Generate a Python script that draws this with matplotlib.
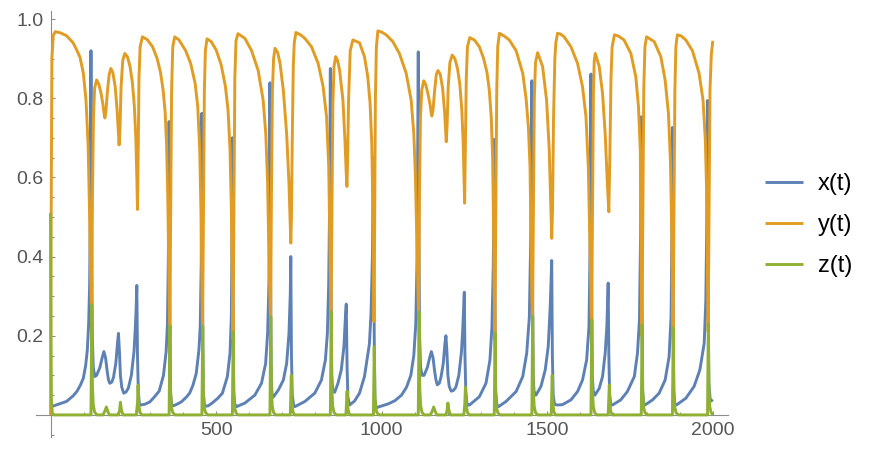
import matplotlib
matplotlib.use("Agg")
import matplotlib.pyplot as plt

# (t, value) pairs
x_points = [
    (0, 0.02), (20, 0.026), (48, 0.034), (68, 0.048), (80, 0.06), (90, 0.075), (99, 0.093),
    (106, 0.125), (111, 0.164), (115, 0.23), (118, 0.33), (120, 0.5), (122, 0.92), (124, 0.45),
    (126, 0.2), (129, 0.12), (133.5, 0.097),
    (139, 0.1), (149, 0.12), (156, 0.145), (161, 0.16), (166, 0.145), (171, 0.11), (175, 0.088),
    (179, 0.08), (185, 0.083), (190, 0.095), (197, 0.13), (202, 0.18), (205, 0.206), (208, 0.16),
    (211, 0.1), (215, 0.07), (221, 0.055), (228, 0.058), (235, 0.068), (244, 0.1), (252, 0.16),
    (256, 0.22), (258.5, 0.27), (260.5, 0.327), (262.5, 0.15), (265, 0.06), (268, 0.03), (271, 0.025),
    (285, 0.027), (300, 0.033), (313, 0.045), (328, 0.06), (341, 0.1), (349, 0.16), (353, 0.23),
    (355.5, 0.38), (358, 0.741), (360, 0.3), (362, 0.06), (365, 0.028), (370, 0.023), (377, 0.025),
    (395, 0.033), (410, 0.045), (420, 0.055), (430, 0.075), (440, 0.105), (448, 0.164), (452, 0.223),
    (455, 0.38), (457, 0.762), (459, 0.3), (461, 0.06), (464, 0.028), (469, 0.022), (476, 0.023),
    (488, 0.03), (505, 0.042), (519, 0.055), (534, 0.097), (542, 0.156), (546, 0.25), (547.5, 0.4),
    (549, 0.70), (551, 0.3), (553, 0.06), (556, 0.028), (562, 0.021),
    (587, 0.03), (617, 0.05), (637, 0.08), (649.5, 0.13), (655.5, 0.206), (659.5, 0.333), (661.5, 0.5),
    (662.6, 0.839), (664.5, 0.35), (666.5, 0.09), (669, 0.05), (672.6, 0.045),
    (688, 0.063), (703, 0.088), (713, 0.13), (720, 0.206), (724, 0.307), (725.5, 0.40), (727.5, 0.15),
    (730, 0.05), (734, 0.025), (738, 0.021),
    (768, 0.034), (798, 0.055), (818, 0.088), (830, 0.139), (836, 0.206), (840, 0.333), (843, 0.55),
    (845, 0.875), (847, 0.35), (849, 0.1), (852, 0.065), (858, 0.057),
    (868, 0.08), (878, 0.114), (886, 0.173), (890.5, 0.248), (893, 0.28), (895.5, 0.12), (898, 0.045),
    (903, 0.025),
    (918, 0.035), (933, 0.055), (948, 0.097), (963, 0.18), (968, 0.26), (972, 0.4), (975, 0.65),
    (977.5, 0.2), (979.5, 0.04), (983, 0.018), (990, 0.02),
    (1020, 0.028), (1040, 0.036), (1060, 0.05), (1075, 0.07), (1088, 0.1), (1097, 0.15), (1103, 0.23),
    (1107, 0.4), (1110.5, 0.917), (1112.5, 0.45), (1114.5, 0.2), (1117.5, 0.12), (1122, 0.1),
    (1128, 0.1), (1138, 0.12), (1145, 0.145), (1150, 0.16), (1155, 0.145), (1160, 0.11), (1164, 0.088),
    (1168, 0.076), (1174, 0.08), (1179, 0.095), (1186, 0.13), (1191, 0.18), (1194, 0.2), (1197, 0.16),
    (1200, 0.1), (1204, 0.072), (1210, 0.06), (1217, 0.062), (1224, 0.07), (1233, 0.1), (1241, 0.16),
    (1245, 0.22), (1247.5, 0.27), (1249.5, 0.31), (1251.5, 0.15), (1254, 0.06), (1257, 0.03),
    (1260, 0.025),
    (1265, 0.025), (1295, 0.046), (1315, 0.08), (1327, 0.139), (1333, 0.223), (1337, 0.375),
    (1340, 0.696), (1342, 0.3), (1344, 0.06), (1348, 0.025), (1353, 0.021),
    (1375.5, 0.034), (1406, 0.059), (1426, 0.097), (1438, 0.156), (1446, 0.248), (1450.5, 0.46),
    (1453.5, 0.844), (1455.5, 0.35), (1457.5, 0.1), (1460, 0.06), (1466, 0.05),
    (1481, 0.072), (1494, 0.114), (1503, 0.173), (1509, 0.274), (1512, 0.35), (1513.5, 0.39),
    (1515.5, 0.15), (1518, 0.05), (1522, 0.027), (1530, 0.025),
    (1546, 0.026), (1571.5, 0.038), (1591.5, 0.059), (1606.5, 0.088), (1619, 0.139), (1626, 0.223),
    (1630, 0.46), (1632, 0.861), (1634, 0.35), (1636, 0.1), (1639, 0.06), (1644, 0.05),
    (1657, 0.067), (1667, 0.097), (1675, 0.156), (1680, 0.223), (1684, 0.333), (1686, 0.15),
    (1688.5, 0.05), (1692, 0.027), (1697, 0.025),
    (1722, 0.038), (1742, 0.059), (1763, 0.097), (1772.5, 0.156), (1778.5, 0.24), (1782, 0.46),
    (1784, 0.753), (1786, 0.3), (1788, 0.06), (1791, 0.03), (1795, 0.025),
    (1818, 0.038), (1838, 0.055), (1856, 0.088), (1868, 0.147), (1874, 0.248), (1876.5, 0.46),
    (1878, 0.726), (1880, 0.3), (1882, 0.06), (1885, 0.03), (1890, 0.025),
    (1918.5, 0.042), (1943.5, 0.072), (1961, 0.114), (1974, 0.181), (1979, 0.29), (1982, 0.5),
    (1984, 0.794), (1986, 0.3), (1988, 0.08), (1992, 0.04), (2000, 0.034),
]

y_points = [
    (0, 0.0), (1.5, 0.45), (4, 0.9), (8, 0.958), (14, 0.968), (30, 0.965), (48, 0.958), (68, 0.94),
    (80, 0.92), (89, 0.903), (99, 0.863), (107, 0.795), (113.5, 0.68), (117.5, 0.52), (120.5, 0.37),
    (122.5, 0.3), (124, 0.25),
    (126.5, 0.55), (129.5, 0.75), (133, 0.825), (139, 0.846), (146, 0.835), (153, 0.81), (158, 0.785),
    (161.5, 0.762), (164, 0.75), (167, 0.765), (172, 0.82), (177, 0.86), (182, 0.875), (188, 0.865),
    (195, 0.83), (201, 0.77), (205, 0.71), (207, 0.682), (209.5, 0.72), (213, 0.83), (218, 0.895),
    (224, 0.913), (232, 0.905), (240, 0.88), (247, 0.84), (253, 0.78), (257.5, 0.7), (260.5, 0.6),
    (262.5, 0.519), (264.5, 0.65), (267, 0.85), (270.5, 0.93), (277.5, 0.955),
    (292, 0.948), (308, 0.93), (322, 0.9), (332, 0.865), (340, 0.82), (346, 0.765), (350.5, 0.68),
    (354, 0.55), (356.5, 0.4), (358.5, 0.28), (360, 0.2), (362.5, 0.5), (365.5, 0.82), (369, 0.93),
    (375, 0.955),
    (388, 0.947), (408, 0.92), (423, 0.888), (436.5, 0.838), (444.5, 0.779), (450.5, 0.67),
    (454.5, 0.5), (457, 0.33), (459, 0.2), (461.5, 0.5), (464.5, 0.82), (467.5, 0.92), (472.5, 0.95),
    (485, 0.943), (500, 0.922), (515, 0.885), (528, 0.83), (536, 0.77), (542, 0.67), (546, 0.52),
    (548.8, 0.33), (551, 0.19), (553.5, 0.5), (556.5, 0.85), (560, 0.945), (566, 0.963),
    (587, 0.951), (607, 0.92), (627, 0.87), (642, 0.795), (650, 0.71), (655.5, 0.585), (659.5, 0.4),
    (662.5, 0.3), (664.5, 0.23), (667, 0.55), (670, 0.82), (673.5, 0.9), (678, 0.926),
    (686, 0.915), (693, 0.888), (703, 0.82), (713, 0.71), (720, 0.585), (723.5, 0.49), (725.5, 0.434),
    (727.5, 0.5), (730, 0.7), (733, 0.88), (736, 0.94), (741, 0.966),
    (755, 0.96), (768, 0.951), (788, 0.93), (808, 0.888), (823, 0.83), (833.5, 0.753), (840, 0.63),
    (843, 0.47), (845.5, 0.32), (847, 0.24), (849.5, 0.5), (852.5, 0.78), (856, 0.88), (861, 0.905),
    (867, 0.895), (873, 0.87), (883, 0.795), (889, 0.694), (893, 0.61), (895, 0.577), (897, 0.64),
    (900, 0.795), (905, 0.92), (913, 0.947),
    (933, 0.94), (948, 0.905), (958, 0.854), (965, 0.787), (970, 0.686), (973, 0.543), (975, 0.38),
    (976.5, 0.236), (978.5, 0.45), (981, 0.8), (984, 0.93), (988.5, 0.97),
    (1000, 0.967), (1013.5, 0.96), (1033.5, 0.943), (1053.5, 0.913), (1074, 0.863), (1089, 0.795),
    (1097, 0.711), (1102, 0.6), (1106, 0.45), (1109, 0.33), (1111.5, 0.24), (1114, 0.55), (1117, 0.75),
    (1121, 0.82), (1127, 0.844),
    (1133, 0.835), (1140, 0.81), (1146, 0.785), (1149, 0.765), (1151.5, 0.755), (1155, 0.77),
    (1160, 0.82), (1165, 0.86), (1170, 0.87), (1177, 0.86), (1184, 0.825), (1190, 0.765), (1193, 0.72),
    (1195, 0.69), (1197.5, 0.73), (1201, 0.83), (1206, 0.89), (1213, 0.909), (1221, 0.9), (1229, 0.875),
    (1236, 0.835), (1242, 0.77), (1246, 0.69), (1248.5, 0.6), (1250.5, 0.535), (1252.5, 0.66),
    (1255.5, 0.85), (1259, 0.93), (1266, 0.953),
    (1280, 0.947), (1295, 0.93), (1308, 0.9), (1318, 0.865), (1325, 0.82), (1331, 0.75), (1335, 0.65),
    (1337.5, 0.5), (1339.5, 0.33), (1342, 0.19), (1344.5, 0.5), (1347.5, 0.82), (1350.5, 0.93),
    (1355.5, 0.964),
    (1370, 0.957), (1385.5, 0.947), (1406, 0.92), (1426, 0.863), (1436, 0.8), (1443, 0.728),
    (1448, 0.627), (1451.5, 0.42), (1453.5, 0.3), (1455.5, 0.23), (1458, 0.5), (1461, 0.8),
    (1464.5, 0.89), (1471, 0.915),
    (1486, 0.88), (1498, 0.795), (1506, 0.67), (1511, 0.52), (1513.5, 0.446), (1516, 0.52),
    (1519, 0.75), (1523, 0.9), (1526, 0.94), (1531, 0.964),
    (1540, 0.962), (1551, 0.955), (1571.5, 0.93), (1591.5, 0.888), (1606.5, 0.829), (1617, 0.753),
    (1624, 0.627), (1629, 0.417), (1631.5, 0.3), (1634, 0.22), (1636.5, 0.5), (1639.5, 0.82),
    (1642, 0.895), (1645, 0.913),
    (1657, 0.88), (1667, 0.812), (1675, 0.71), (1682, 0.577), (1686, 0.513), (1689, 0.65),
    (1692.5, 0.85), (1696, 0.93), (1703, 0.96),
    (1715, 0.957), (1732, 0.947), (1752.5, 0.913), (1767.5, 0.854), (1775.5, 0.779), (1781, 0.67),
    (1783, 0.45), (1784.5, 0.3), (1786, 0.2), (1788.5, 0.5), (1791.5, 0.82), (1795, 0.93), (1800, 0.955),
    (1823, 0.943), (1843, 0.905), (1856, 0.846), (1866, 0.762), (1872, 0.644), (1876, 0.46),
    (1878, 0.3), (1880, 0.2), (1882.5, 0.5), (1885.5, 0.82), (1888.5, 0.93), (1893, 0.96),
    (1905, 0.957), (1918.5, 0.947), (1938.5, 0.92), (1958.5, 0.863), (1970.5, 0.795), (1977.5, 0.694),
    (1982, 0.543), (1984, 0.35), (1986, 0.21), (1988.5, 0.5), (1991.5, 0.82), (1995.5, 0.91),
    (2000, 0.945),
]

z_points = [
    (0, 0.51), (1, 0.2), (2.5, 0.04), (5, 0.006), (10, 0.0),
    (122, 0), (124.5, 0.278), (126.5, 0.07), (129, 0.025), (133, 0.007), (140, 0),
    (158, 0), (163, 0.008), (168.5, 0.02), (173, 0.008), (178, 0),
    (205, 0), (208.5, 0.012), (211, 0.032), (214, 0.012), (219, 0),
    (259, 0), (262.5, 0.03), (264.3, 0.075), (266.5, 0.025), (270, 0.006), (276, 0),
    (358, 0), (360.5, 0.225), (362.5, 0.06), (365, 0.02), (369, 0.006), (376, 0),
    (457, 0), (459.5, 0.225), (461.5, 0.06), (464, 0.02), (468, 0.006), (475, 0),
    (549, 0), (551.5, 0.21), (553.5, 0.055), (556, 0.018), (560, 0.005), (567, 0),
    (662.5, 0), (665, 0.248), (667, 0.065), (669.5, 0.022), (673.5, 0.006), (680, 0),
    (724, 0), (727, 0.10), (729, 0.03), (732, 0.008), (737, 0),
    (845, 0), (847.5, 0.261), (849.5, 0.07), (852, 0.022), (856, 0.006), (863, 0),
    (892, 0), (895.5, 0.06), (897.5, 0.02), (900.5, 0.005), (905, 0),
    (975, 0), (977.5, 0.172), (979.5, 0.05), (982, 0.016), (986, 0.005), (993, 0),
    (1110.5, 0), (1113, 0.26), (1115, 0.07), (1117.5, 0.025), (1121.5, 0.007), (1128, 0),
    (1147, 0), (1152, 0.008), (1157, 0.02), (1162, 0.008), (1167, 0),
    (1194, 0), (1197.5, 0.012), (1200, 0.03), (1203, 0.012), (1208, 0),
    (1248, 0), (1251, 0.028), (1253, 0.07), (1255.5, 0.025), (1259, 0.006), (1265, 0),
    (1340, 0), (1342.5, 0.208), (1344.5, 0.055), (1347, 0.018), (1351, 0.005), (1358, 0),
    (1453.5, 0), (1456, 0.25), (1458, 0.065), (1460.5, 0.022), (1464.5, 0.006), (1471, 0),
    (1512, 0), (1515, 0.10), (1517, 0.03), (1520, 0.008), (1525, 0),
    (1632, 0), (1634.5, 0.24), (1636.5, 0.065), (1639, 0.022), (1643, 0.006), (1650, 0),
    (1684, 0), (1687.5, 0.076), (1689.5, 0.025), (1692.5, 0.006), (1697, 0),
    (1784, 0), (1786.5, 0.227), (1788.5, 0.06), (1791, 0.02), (1795, 0.006), (1802, 0),
    (1878, 0), (1880.5, 0.22), (1882.5, 0.06), (1885, 0.02), (1889, 0.006), (1896, 0),
    (1984, 0), (1986.5, 0.23), (1988.5, 0.06), (1991, 0.02), (1995, 0.006), (2000, 0.0),
]

series_labels = ["x(t)", "y(t)", "z(t)"]
series_colors = ["#5E81B5", "#E19C24", "#8FB032"]

x_major = [500, 1000, 1500, 2000]
x_major_labels = ["500", "1000", "1500", "2000"]
y_major = [0.2, 0.4, 0.6, 0.8, 1.0]
y_major_labels = ["0.2", "0.4", "0.6", "0.8", "1.0"]

plt.rcParams["font.family"] = ["Liberation Sans", "DejaVu Sans"]

fig = plt.figure(figsize=(8.77, 4.5), dpi=100)
ax = fig.add_axes([36 / 877, 13.3 / 450, 691.7 / 877, 426 / 450])

for pts, label, color, z in zip([x_points, y_points, z_points], series_labels, series_colors, [2, 3, 4]):
    ts = [p[0] for p in pts]
    vs = [p[1] for p in pts]
    ax.plot(ts, vs, color=color, lw=2.1, label=label, zorder=z,
            solid_joinstyle="round", solid_capstyle="butt")

ax.set_xlim(-44, 2045)
ax.set_ylim(-0.055, 1.021)

axis_gray = "#8c8c8c"
for side in ["top", "right"]:
    ax.spines[side].set_visible(False)
ax.spines["left"].set_position(("data", 0))
ax.spines["bottom"].set_position(("data", 0))
for side in ["left", "bottom"]:
    ax.spines[side].set_color(axis_gray)
    ax.spines[side].set_linewidth(0.8)
    ax.spines[side].set_zorder(0.5)
ax.set_axisbelow(True)

ax.set_xticks(x_major)
ax.set_xticklabels(x_major_labels)
ax.set_xticks([t for t in range(100, 2001, 100) if t not in x_major], minor=True)
ax.set_yticks(y_major)
ax.set_yticklabels(y_major_labels)
ax.set_yticks([k * 0.05 for k in range(-1, 21) if k % 4 != 0], minor=True)

ax.tick_params(which="both", direction="in", color=axis_gray, width=0.8,
               labelsize=14, labelcolor="#555555")
ax.tick_params(which="major", length=3.2)
ax.tick_params(which="minor", length=1.9)
ax.tick_params(axis="x", which="major", pad=5)
ax.tick_params(axis="y", which="major", pad=5)

ax.legend(loc="center left", bbox_to_anchor=(765 / 877, 0.5), bbox_transform=fig.transFigure,
          frameon=False, fontsize=17, handlelength=1.6, handletextpad=0.65,
          labelspacing=0.8, borderpad=0, borderaxespad=0)

fig.savefig("out.png", dpi=100)
plt.close(fig)
